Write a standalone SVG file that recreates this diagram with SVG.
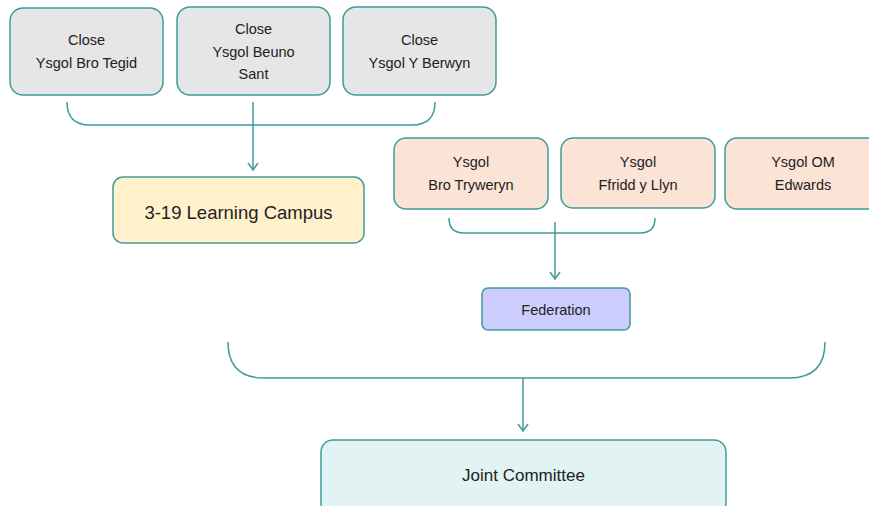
<svg xmlns="http://www.w3.org/2000/svg" width="869" height="506" viewBox="0 0 869 506">
<defs>
<style>
.n rect{stroke:#3f9c9a;stroke-width:1.5}
.g rect{fill:#e6e6e6}
.p rect{fill:#fbe3d5}
.t{font-family:"Liberation Sans",Arial,sans-serif;font-size:14.5px;fill:#222;text-anchor:middle}
.c path{fill:none;stroke:#3f9c9a;stroke-width:1.5}
</style>
<marker id="ah" markerWidth="10" markerHeight="12" refX="8" refY="6" orient="auto" markerUnits="userSpaceOnUse" viewBox="0 0 10 12">
<path d="M1,1 L8,6 L1,11" fill="none" stroke="#3f9c9a" stroke-width="1.5"/>
</marker>
</defs>
<rect width="869" height="506" fill="#fff"/>
<g class="c">
<path d="M67,102 Q67,125 90,125 L412,125 Q435,125 435,102"/>
<path d="M253,102 L253,170" marker-end="url(#ah)"/>
<path d="M449,218 Q449,233 464,233 L640,233 Q655,233 655,218"/>
<path d="M555,222 L555,279" marker-end="url(#ah)"/>
<path d="M228,342 Q228,378 264,378 L789,378 Q825,378 825,342"/>
<path d="M523,378 L523,431" marker-end="url(#ah)"/>
</g>
<g id="n1" class="n g"><rect x="10" y="8" width="153" height="87" rx="13"/><text class="t" x="86.5" y="45">Close</text><text class="t" x="86.5" y="68">Ysgol Bro Tegid</text></g>
<g id="n2" class="n g"><rect x="177" y="7" width="153" height="88" rx="13"/><text class="t" x="253.5" y="34">Close</text><text class="t" x="253.5" y="57">Ysgol Beuno</text><text class="t" x="253.5" y="79">Sant</text></g>
<g id="n3" class="n g"><rect x="343" y="7" width="153" height="88" rx="13"/><text class="t" x="419.5" y="45">Close</text><text class="t" x="419.5" y="68">Ysgol Y Berwyn</text></g>
<g id="n4" class="n"><rect x="113" y="177" width="251" height="66" rx="10" fill="#fff1cc"/><text class="t" x="238.5" y="219" style="font-size:18.5px">3-19 Learning Campus</text></g>
<g id="n5" class="n p"><rect x="394" y="138" width="154" height="71" rx="12"/><text class="t" x="471" y="167">Ysgol</text><text class="t" x="471" y="190">Bro Tryweryn</text></g>
<g id="n6" class="n p"><rect x="561" y="138" width="154" height="70" rx="12"/><text class="t" x="638" y="167">Ysgol</text><text class="t" x="638" y="190">Ffridd y Llyn</text></g>
<g id="n7" class="n p"><rect x="725" y="138" width="160" height="71" rx="12"/><text class="t" x="803" y="167">Ysgol OM</text><text class="t" x="803" y="190">Edwards</text></g>
<g id="n8" class="n"><rect x="482" y="288" width="148" height="42" rx="6" fill="#ccccff"/><text class="t" x="556" y="315">Federation</text></g>
<g id="n9" class="n"><rect x="321" y="440" width="405" height="75" rx="12" fill="#e1f3f3"/><text class="t" x="523.5" y="481" style="font-size:17px">Joint Committee</text></g>
</svg>
